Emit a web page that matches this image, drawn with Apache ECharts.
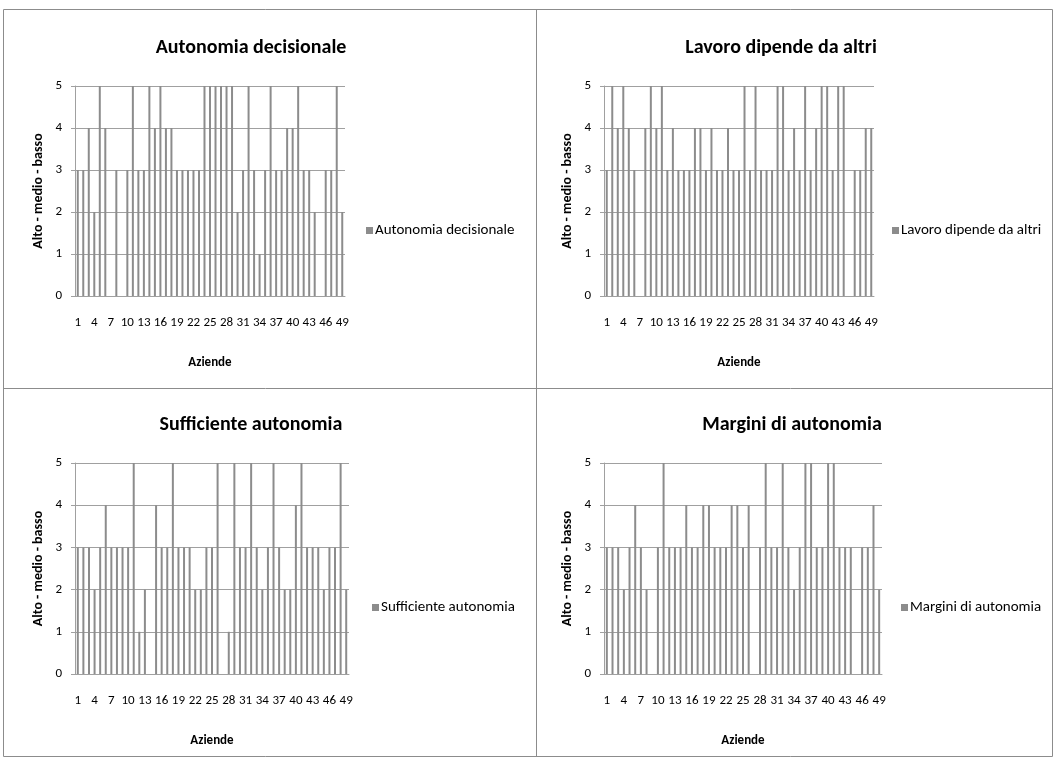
<!DOCTYPE html>
<html>
<head>
<meta charset="utf-8">
<script src="https://cdn.jsdelivr.net/npm/echarts@6/dist/echarts.min.js"></script>
<style>
html,body{margin:0;padding:0;background:#fff;}
#c{width:1057px;height:760px;}
</style>
</head>
<body>
<div id="c"></div>
<script>
const aziende = ['1','2','3','4','5','6','7','8','9','10','11','12','13','14','15','16','17','18','19','20','21','22','23','24','25','26','27','28','29','30','31','32','33','34','35','36','37','38','39','40','41','42','43','44','45','46','47','48','49'];
const yTicks = [0,1,2,3,4,5];

const titles = ['Autonomia decisionale','Lavoro dipende da altri','Sufficiente autonomia','Margini di autonomia'];

const autonomiaDecisionale = [3,3,4,2,5,4,0,3,0,3,5,3,3,5,4,5,4,4,3,3,3,3,3,5,5,5,5,5,5,2,3,5,3,1,3,5,3,3,4,4,5,3,3,2,0,3,3,5,2];
const lavoroDipende       = [3,5,4,5,4,3,0,4,5,4,5,3,4,3,3,3,4,4,3,4,3,3,4,3,3,5,3,5,3,3,3,5,5,3,4,3,5,3,4,5,5,3,5,5,0,3,3,4,4];
const sufficienteAutonomia= [3,3,3,2,3,4,3,3,3,3,5,1,2,0,4,3,3,5,3,3,3,2,2,3,3,5,0,1,5,3,3,5,3,2,3,5,3,2,2,4,5,3,3,3,2,3,3,5,2];
const marginiAutonomia    = [3,3,3,2,3,4,3,2,0,3,5,3,3,3,4,3,3,4,4,3,3,3,4,4,3,4,0,3,5,3,3,5,3,2,3,5,5,3,3,5,5,3,3,3,0,3,3,4,2];

const seriesData = [autonomiaDecisionale, lavoroDipende, sufficienteAutonomia, marginiAutonomia];

const FONT = 'Carlito, Lato, sans-serif';
const GRID_COLOR = '#a0a0a0';
const BAR_COLOR = '#8c8c8c';

const panels = [
  {grid:{left:75, top:86, width:270, height:210}, title:{x:246, y:33}, legend:{left:361, top:218}},
  {grid:{left:604, top:86, width:270, height:210}, title:{x:776, y:33}, legend:{left:887, top:218}},
  {grid:{left:75, top:463, width:274, height:211}, title:{x:246, y:410}, legend:{left:367, top:595}},
  {grid:{left:604, top:463, width:278, height:211}, title:{x:787, y:410}, legend:{left:896, top:595}}
];

const option = {
  animation:false,
  textStyle:{fontFamily:FONT},
  title: panels.map((p,i)=>({
    text:titles[i], left:p.title.x, top:p.title.y, textAlign:'center',
    textStyle:{fontFamily:FONT, fontSize:20, fontWeight:'bold', color:'#000'}
  })),
  legend: panels.map((p,i)=>({
    data:[titles[i]], left:p.legend.left, top:p.legend.top, orient:'vertical',
    icon:'rect', itemWidth:7, itemHeight:7, itemGap:4,
    textStyle:{fontFamily:FONT, fontSize:15, color:'#000', padding:[0,0,0,-3]}
  })),
  grid: panels.map(p=>Object.assign({containLabel:false}, p.grid)),
  xAxis: panels.map((p,i)=>({
    type:'category', gridIndex:i, data:aziende,
    name:'Aziende', nameLocation:'middle', nameGap:60,
    nameTextStyle:{fontFamily:FONT, fontSize:13, fontWeight:'bold', color:'#000'},
    axisLine:{lineStyle:{color:GRID_COLOR, width:1}},
    axisTick:{show:false},
    axisLabel:{interval:2, fontSize:13, color:'#000', margin:20, fontFamily:FONT}
  })),
  yAxis: panels.map((p,i)=>({
    type:'value', gridIndex:i, min:yTicks[0], max:yTicks[yTicks.length-1], interval:1,
    name:'Alto - medio - basso', nameLocation:'middle', nameGap:30, nameRotate:90,
    nameTextStyle:{fontFamily:FONT, fontSize:14, fontWeight:'bold', color:'#000'},
    axisLine:{show:true, lineStyle:{color:GRID_COLOR, width:1}},
    axisTick:{show:true, length:4, lineStyle:{color:GRID_COLOR}},
    axisLabel:{fontSize:13, color:'#000', margin:13, fontFamily:FONT},
    splitLine:{lineStyle:{color:GRID_COLOR, width:1}}
  })),
  series: seriesData.map((d,i)=>({
    name:titles[i], type:'bar', xAxisIndex:i, yAxisIndex:i, data:d,
    barWidth:2, itemStyle:{color:BAR_COLOR}
  })),
  graphic:[
    {type:'rect', shape:{x:3.5, y:9.5, width:1049, height:747}, style:{fill:'none', stroke:'#8c8c8c', lineWidth:1}, silent:true},
    {type:'line', shape:{x1:536.5, y1:9, x2:536.5, y2:757}, style:{stroke:'#8c8c8c', lineWidth:1}, silent:true},
    {type:'line', shape:{x1:3, y1:388.5, x2:1053, y2:388.5}, style:{stroke:'#8c8c8c', lineWidth:1}, silent:true}
  ]
};

const chart = echarts.init(document.getElementById('c'), null, {renderer:'canvas'});
chart.setOption(option);
</script>
</body>
</html>
